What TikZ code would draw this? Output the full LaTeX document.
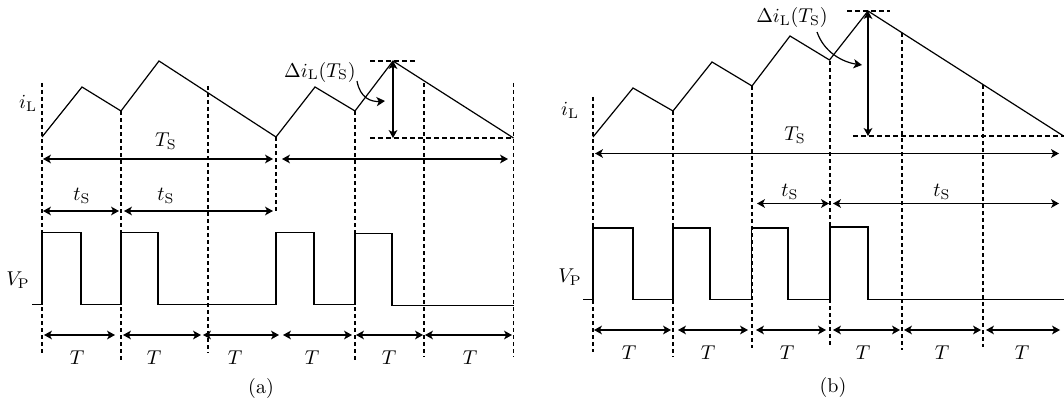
\documentclass[tikz,border=0pt]{standalone}
\usetikzlibrary{arrows.meta}
\begin{document}
\begin{tikzpicture}[x=0.5pt,y=-0.5pt,
  wave/.style={line width=0.6pt,line join=miter},
  guide/.style={line width=0.6pt,dash pattern=on 2pt off 1.5pt},
  guideh/.style={line width=0.6pt,dash pattern=on 2.5pt off 1.5pt},
  dimarrow/.style={line width=0.6pt,{Stealth[length=4pt,width=4.4pt,inset=1.1pt]}-{Stealth[length=4pt,width=4.4pt,inset=1.1pt]}},
  onearrow/.style={line width=0.6pt,-{Stealth[length=4.2pt,width=4.6pt,inset=1.1pt]}},
  lbl/.style={inner sep=0pt}]
\useasboundingbox (0,0) rectangle (1064,401);

% ================= panel (a) =================
% dashed guides
\draw[guide] (42,83) -- (42,355);
\draw[guide] (121,111) -- (121,360);
\draw[guide] (208,86) -- (208,353);
\draw[guide] (276,137) -- (276,214);
\draw[guide] (355,111) -- (355,360);
\draw[guide] (424,83) -- (424,357);
\draw[guide] (513.5,83) -- (513.5,357);
\draw[guideh] (370,61) -- (415,61);
\draw[guideh] (370,138) -- (513.5,138);

% inductor current
\draw[wave] (42,137) -- (82,87) -- (121,111) -- (159,61) -- (276,137) -- (315,87) -- (355,111) -- (393,61) -- (513.5,138);

% labels
\node[lbl] (iLa) at (28,103) {$i_{\mathrm{L}}$};
\node[lbl] (dIa) at (320,72) {$\Delta i_{\mathrm{L}}(T_{\mathrm{S}})$};
\coordinate (dIaEnd) at (385,101);
\draw[onearrow] (357,81) .. controls (360,98) and (371,102) .. (dIaEnd);
\draw[dimarrow] (393,61) -- (393,138);

\node[lbl] (TSa) at (166,141) {$T_{\mathrm{S}}$};
\draw[dimarrow] (43,159) -- (273,159);
\draw[dimarrow] (282,159) -- (508,159);

\node[lbl] (tSa1) at (82,196) {$t_{\mathrm{S}}$};
\node[lbl] (tSa2) at (166,196) {$t_{\mathrm{S}}$};
\draw[dimarrow] (43,211) -- (119,211);
\draw[dimarrow] (124,211) -- (273,211);

% pulse
\node[lbl] (VPa) at (18,280) {$V_{\mathrm{P}}$};
\draw[wave] (32,304.5) -- (42,304.5) -- (42,232.5) -- (81,232.5) -- (81,304.5) -- (121,304.5)
  -- (121,232.5) -- (158,232.5) -- (158,304.5) -- (276,304.5) -- (276,232.5) -- (314,232.5)
  -- (314,304.5) -- (355,304.5) -- (355,233.5) -- (392,233.5) -- (392,305.5) -- (513.5,305.5);

% periods
\foreach \a/\b/\c in {44/115/77,123/201/154,203/279/235,283/352/312,356/423/389,425/512/470}{
  \draw[dimarrow] (\a,335) -- (\b,335);
  \node[lbl] at (\c,358) {$T$};
}
\node[lbl] (capa) at (261,388) {(a)};

% ================= panel (b) =================
\draw[guide] (593,97) -- (593,352);
\draw[guide] (673,111) -- (673,357);
\draw[guide] (752,86) -- (752,348);
\draw[guide] (830,61) -- (830,345);
\draw[guide] (902,33) -- (902,350);
\draw[guide] (983,85) -- (983,347);
\draw[guideh] (847,11) -- (890,11);
\draw[guideh] (853,136) -- (1063.5,136);

\draw[wave] (593,137) -- (633,88) -- (673,111) -- (712,62) -- (752,86) -- (790,36) -- (829.5,60) -- (868,11) -- (1063.5,136);

\node[lbl] (iLb) at (570,110) {$i_{\mathrm{L}}$};
\node[lbl] (dIb) at (792,18) {$\Delta i_{\mathrm{L}}(T_{\mathrm{S}})$};
\coordinate (dIbEnd) at (862,65);
\draw[onearrow] (817,32) .. controls (824,52) and (842,62) .. (dIbEnd);
\draw[dimarrow] (868,11) -- (868,136);

\node[lbl] (TSb) at (795,135) {$T_{\mathrm{S}}$};
\draw[dimarrow] (595,153.5) -- (1059,153.5);

\node[lbl] (tSb1) at (790,192) {$t_{\mathrm{S}}$};
\node[lbl] (tSb2) at (942,192) {$t_{\mathrm{S}}$};
\draw[dimarrow] (757,203.5) -- (829,203.5);
\draw[dimarrow] (833,203.5) -- (1059,203.5);

\node[lbl] (VPb) at (570,277) {$V_{\mathrm{P}}$};
\draw[wave] (583,299.5) -- (593,299.5) -- (593,228) -- (633,228) -- (633,299.5) -- (673,299.5)
  -- (673,228) -- (710,228) -- (710,299.5) -- (751.5,299.5) -- (751.5,228) -- (788,228)
  -- (788,299.5) -- (830,299.5) -- (830,227) -- (868,227) -- (868,299.5) -- (1064,299.5);

\foreach \a/\b/\c in {594/671/629,678/748/708,756/826/787,833/900/863,904/981/942,986/1060/1022}{
  \draw[dimarrow] (\a,330) -- (\b,330);
  \node[lbl] at (\c,353) {$T$};
}
\node[lbl] (capb) at (833,387) {(b)};
\end{tikzpicture}
\end{document}
